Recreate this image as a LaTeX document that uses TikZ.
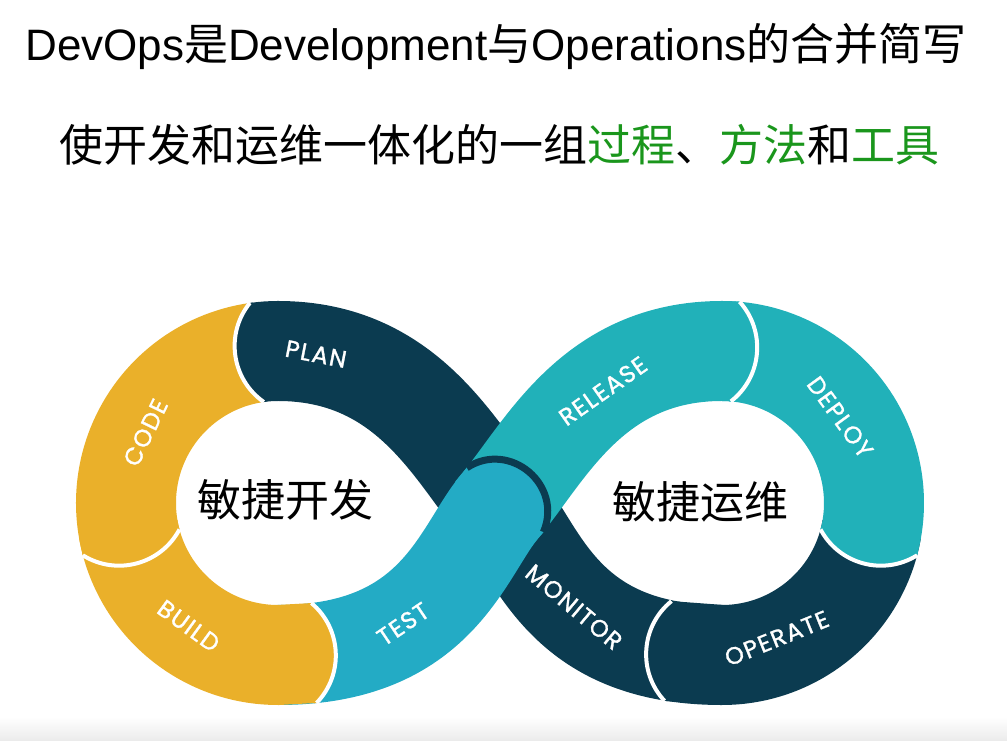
\documentclass[tikz,border=0pt]{standalone}
\usepackage{fontspec}
\setmainfont{Liberation Sans}
\newfontfamily\cjk{Noto Sans CJK SC}
\newfontfamily\stagefont{Poppins}[LetterSpace=6, FakeBold=1.2]
\definecolor{devdark}{HTML}{0B3B50}
\definecolor{codeyellow}{HTML}{EAB02A}
\definecolor{opsteal}{HTML}{21B1B9}
\definecolor{testblue}{HTML}{23ABC5}
\definecolor{titlegreen}{HTML}{1A961C}

\begin{document}
\begin{tikzpicture}[x=1pt, y=1pt,
    band/.style={line width=100pt, line cap=butt},
    stage/.style={text=white, font=\stagefont\fontsize{24}{24}\selectfont},
    hole/.style={font=\cjk\fontsize{44}{44}\selectfont},
    title/.style={font=\fontsize{44}{50}\selectfont}]

  \useasboundingbox (-500,-240) rectangle (507,501);
  \shade[top color=white, bottom color=black!8] (-500,-240) rectangle (507,-216);

  \coordinate (L) at (-222,-2);
  \coordinate (R) at (222,-2);
  \coordinate (O) at (0,-5);
  \coordinate (ltop) at (-222,150);
  \coordinate (lbot) at (-222,-154);
  \coordinate (rtop) at (222,150);
  \coordinate (rbot) at (222,-154);

  \draw[band, devdark] (rbot) .. controls +(180:160) and +(-50:60) .. (O)
      .. controls +(130:70) and +(0:130) .. (ltop) arc[start angle=90, end angle=98, radius=152];
  \draw[band, devdark] ([shift={(R)}]-10:152) arc[start angle=-10, end angle=-90, radius=152] -- (168,-150);
  \draw[band, opsteal] (rtop) arc[start angle=90, end angle=-15, radius=152];
  \draw[band, opsteal] ([shift={(O)}]230:10) -- (O) .. controls +(50:70) and +(180:130) .. (rtop)
      arc[start angle=90, end angle=85, radius=152];
  \draw[band, testblue] (lbot) .. controls +(0:160) and +(230:60) .. (O) -- ++(50:8);
  \draw[band, codeyellow] ([shift={(L)}]190:152) arc[start angle=190, end angle=270, radius=152] -- (-186,-152);
  \draw[band, codeyellow] ([shift={(L)}]98:152) arc[start angle=98, end angle=195, radius=152];

  \coordinate (planend) at ([shift={(L)}]98:152);
  \coordinate (codeend) at ([shift={(L)}]195:152);
  \coordinate (buildend) at (-186,-152);
  \coordinate (testend) at ([shift={(O)}]50:8);
  \coordinate (releaseend) at ([shift={(R)}]85:152);
  \coordinate (deployend) at ([shift={(R)}]-15:152);
  \coordinate (operateend) at (168,-150);

  \foreach \p/\d/\k/\h/\c/\e/\w in {
        planend/188/29/23/devdark/white/4,
        codeend/285/29/23/codeyellow/white/4,
        buildend/3/29/23/codeyellow/white/4,
        testend/50/49/35/testblue/devdark/7,
        releaseend/-5/29/23/opsteal/white/4,
        deployend/-105/29/23/opsteal/white/4,
        operateend/176/29/23/devdark/white/4} {
    \begin{scope}[shift={(\p)}, rotate=\d]
      \fill[\c] (-3,50) -- (0,50) .. controls (\k,\h) and (\k,-\h) .. (0,-50) -- (-3,-50) -- cycle;
      \draw[\e, line width=\w pt] (0,50) .. controls (\k,\h) and (\k,-\h) .. (0,-50);
    \end{scope}
  }

  \node[stage, rotate=-11] (plan) at (-184,147) {PLAN};
  \node[stage, rotate=64] (code) at ([shift={(L)}]152:150) {CODE};
  \node[stage, rotate=-36] (build) at ([shift={(L)}]234:152) {BUILD};
  \node[stage, rotate=34] (test) at (-97,-123) {TEST};
  \node[stage, rotate=35] (release) at (103,110) {RELEASE};
  \node[stage, rotate=-54] (deploy) at ([shift={(R)}]36:146) {DEPLOY};
  \node[stage, rotate=22] (operate) at ([shift={(R)}]-68:146) {OPERATE};
  \node[stage, rotate=-40] (monitor) at (74,-106) {MONITOR};

  \node[hole] (dev) at (-214,1) {敏捷开发};
  \node[hole] (ops) at (201,-1) {敏捷运维};

  \node[title] (head) at (-4,454) {DevOps{\cjk 是}Development{\cjk 与}Operations{\cjk 的合并简写}};
  \node[title, font=\cjk\fontsize{44}{50}\selectfont] (sub) at (0,356)
      {使开发和运维一体化的一组\textcolor{titlegreen}{过程}、\textcolor{titlegreen}{方法}和\textcolor{titlegreen}{工具}};
\end{tikzpicture}
\end{document}
